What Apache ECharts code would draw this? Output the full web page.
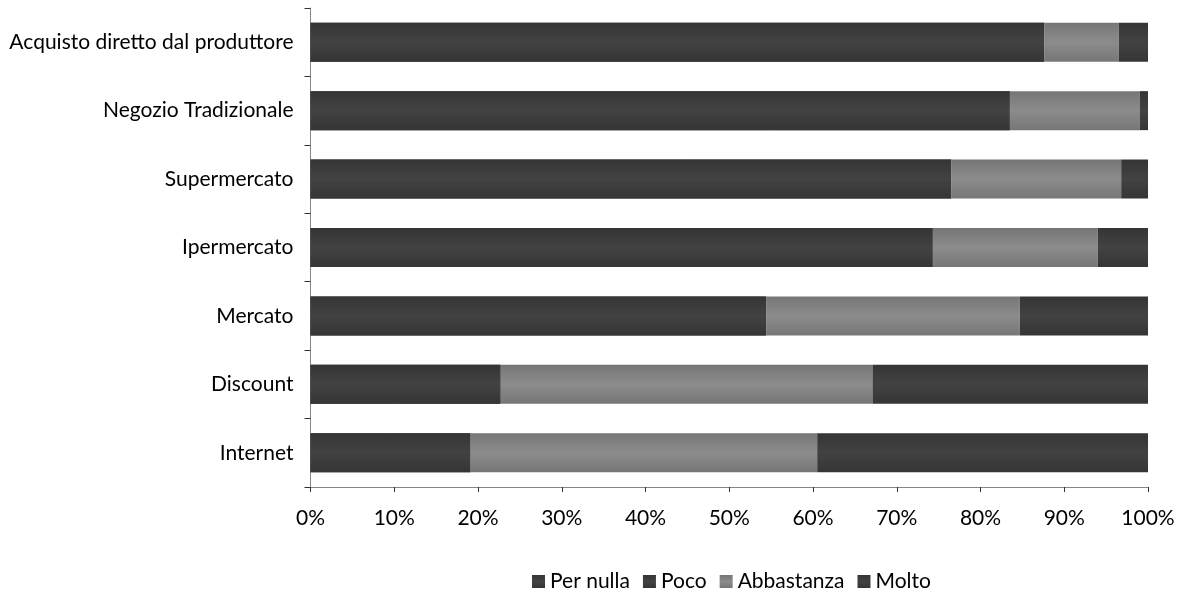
<!DOCTYPE html>
<html>
<head>
<meta charset="utf-8">
<script src="https://cdn.jsdelivr.net/npm/echarts@6/dist/echarts.min.js"></script>
<style>
html,body{margin:0;padding:0;background:#fff;}
#chart{width:1183px;height:592px;}
</style>
</head>
<body>
<div id="chart"></div>
<script>
// Categories (top to bottom)
var categories = ["Acquisto diretto dal produttore", "Negozio Tradizionale", "Supermercato", "Ipermercato", "Mercato", "Discount", "Internet"];
// Series values (percent)
var perNulla   = [62.0, 55.0, 45.0, 48.0, 30.0, 10.0, 9.0];
var poco       = [25.6, 28.5, 31.5, 26.3, 24.4, 12.7, 10.1];
var abbastanza = [8.9, 15.5, 20.3, 19.7, 30.3, 44.4, 41.4];
var molto      = [3.5, 1.0, 3.2, 6.0, 15.3, 32.9, 39.5];
var seriesNames = ["Per nulla", "Poco", "Abbastanza", "Molto"];

var FONT = "Lato";
var FS = 21;

function grad(edge, mid) {
  return new echarts.graphic.LinearGradient(0, 0, 0, 1, [
    {offset: 0, color: edge},
    {offset: 0.5, color: mid},
    {offset: 1, color: edge}
  ]);
}
var darkFill = function(){ return grad('#353535', '#424242'); };
var grayFill = function(){ return grad('#767676', '#8c8c8c'); };

var dataSets = [perNulla, poco, abbastanza, molto];
var fills = [darkFill(), darkFill(), grayFill(), darkFill()];

var series = seriesNames.map(function(name, i){
  return {
    name: name,
    type: 'bar',
    stack: 'total',
    barWidth: '57%',
    barGap: '-100%',
    data: dataSets[i],
    itemStyle: { color: fills[i] },
    z: 3,
    emphasis: { disabled: true }
  };
});

// Underlay (same colour as the two dark segments) so that the shared edge of
// "Per nulla" and "Poco" does not show an anti-aliasing seam.
var darkTotal = perNulla.map(function(v, i){ return v + poco[i]; });
series.unshift({
  name: '_base',
  type: 'bar',
  barWidth: '57%',
  barGap: '-100%',
  data: darkTotal,
  itemStyle: { color: darkFill() },
  z: 1,
  silent: true,
  emphasis: { disabled: true }
});

var chart = echarts.init(document.getElementById('chart'), null, {renderer: 'canvas'});
chart.setOption({
  animation: false,
  backgroundColor: '#ffffff',
  textStyle: { fontFamily: FONT },
  grid: { left: 310.5, right: 35, top: 8, bottom: 105, containLabel: false },
  xAxis: {
    type: 'value',
    min: 0, max: 100, interval: 10,
    axisLine: { show: true, lineStyle: { color: '#868686', width: 1 } },
    axisTick: { show: true, length: 5, lineStyle: { color: '#333' } },
    splitLine: { show: false },
    axisLabel: { formatter: '{value}%', color: '#000', fontSize: FS, fontFamily: FONT, margin: 21 }
  },
  yAxis: {
    type: 'category',
    data: categories,
    inverse: true,
    axisLine: { show: true, lineStyle: { color: '#868686', width: 1 } },
    axisTick: { show: true, length: 6, lineStyle: { color: '#333' } },
    axisLabel: { color: '#000', fontSize: FS, fontFamily: FONT, margin: 17 }
  },
  legend: {
    data: seriesNames,
    left: 527,
    top: 566,
    itemWidth: 13,
    itemHeight: 13,
    itemGap: 13,
    icon: 'rect',
    textStyle: { color: '#000', fontSize: FS, fontFamily: FONT, padding: [0,0,0,0] }
  },
  series: series
});
</script>
</body>
</html>
